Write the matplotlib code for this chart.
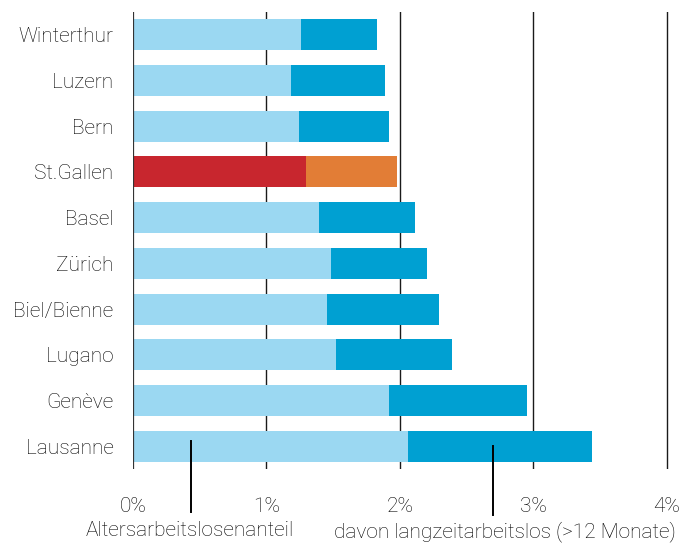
import matplotlib
matplotlib.use("Agg")
import matplotlib.pyplot as plt
import matplotlib.transforms as mtransforms

# Altersarbeitslosenanteil und davon Langzeitarbeitslose, in % (Städte)
cities = ["Winterthur", "Luzern", "Bern", "St.Gallen", "Basel",
          "Zürich", "Biel/Bienne", "Lugano", "Genève", "Lausanne"]
share_total = [1.83, 1.885, 1.92, 1.98, 2.11, 2.205, 2.29, 2.39, 2.95, 3.44]
share_longterm = [0.575, 0.705, 0.68, 0.685, 0.715, 0.72, 0.84, 0.87, 1.035, 1.38]
share_rest = [t - l for t, l in zip(share_total, share_longterm)]

x_ticks = [0, 1, 2, 3, 4]
x_labels = ["0%", "1%", "2%", "3%", "4%"]
highlight = "St.Gallen"

LIGHT_BLUE = "#9BD8F2"
DARK_BLUE = "#00A0D2"
RED = "#C8262E"
ORANGE = "#E27D36"
TEXT = "#000000"
FS = 15

plt.rcParams["font.family"] = ["Roboto", "Liberation Sans", "DejaVu Sans"]
plt.rcParams["font.weight"] = "light"

fig = plt.figure(figsize=(6.83, 5.43), dpi=100)
ax = fig.add_axes([133 / 683, 1 - 469 / 543, 536 / 683, 457 / 543])

ypos = list(range(len(cities)))
c_first = [RED if c == highlight else LIGHT_BLUE for c in cities]
c_second = [ORANGE if c == highlight else DARK_BLUE for c in cities]

ax.barh(ypos, share_rest, height=0.68, color=c_first, zorder=2)
ax.barh(ypos, share_longterm, left=share_rest, height=0.68, color=c_second, zorder=2)

# vertical reference lines
for t in x_ticks[1:]:
    ax.axvline(t, color="#1a1a1a", lw=1.0, zorder=1)
ax.axvline(0, color="#333333", lw=1.6, zorder=3)

ax.set_xlim(0, 4.015)
ax.set_ylim(len(cities) - 0.5, -0.5)
ax.set_xticks(x_ticks)
ax.set_xticklabels(x_labels)
ax.set_yticks(ypos)
ax.set_yticklabels(cities)
ax.tick_params(axis="x", length=0, pad=20, labelsize=FS, colors=TEXT)
ax.tick_params(axis="y", length=0, pad=14, labelsize=FS, colors=TEXT)
for s in ax.spines.values():
    s.set_visible(False)

# legend pointers below the bars
trans = mtransforms.blended_transform_factory(ax.transData, ax.transAxes)
ax.plot([0.435, 0.435], [0.061, -0.094], color="black", lw=1.4,
        transform=trans, clip_on=False, zorder=4)
ax.plot([2.70, 2.70], [0.050, -0.101], color="black", lw=1.4,
        transform=trans, clip_on=False, zorder=4)

fig.text(190 / 683, 1 - 531 / 543, "Altersarbeitslosenanteil",
         ha="center", va="center", fontsize=FS, color=TEXT)
fig.text(505 / 683, 1 - 532 / 543, "davon langzeitarbeitslos (>12 Monate)",
         ha="center", va="center", fontsize=FS, color=TEXT)

fig.savefig("out.png", dpi=100)
